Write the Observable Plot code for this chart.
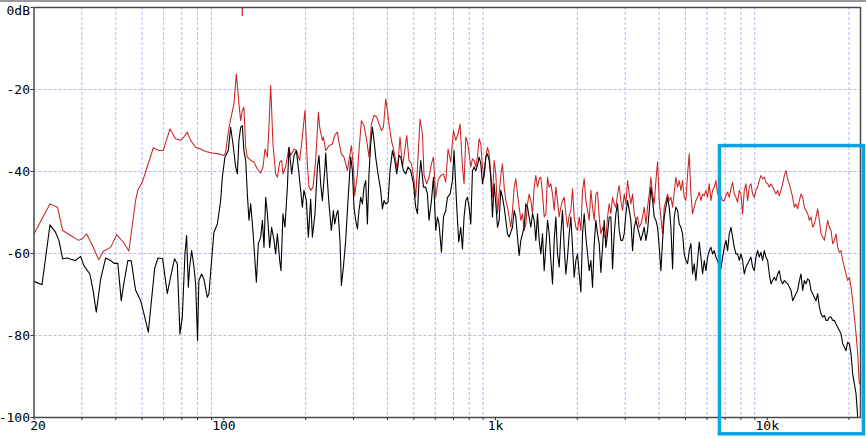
<!DOCTYPE html>
<html><head><meta charset="utf-8">
<script src="https://cdn.jsdelivr.net/npm/d3@7"></script>
<script src="https://cdn.jsdelivr.net/npm/@observablehq/plot@0.6"></script>
<style>
html,body{margin:0;padding:0;background:#fff;}
#wrap{position:relative;width:866px;height:439px;overflow:hidden;}
#topbar{position:absolute;left:0;top:0;width:866px;height:2px;background:#9a9a9a;}
</style></head><body><div id="wrap"><div id="topbar"></div></div>
<script>
// ---- axis / grid values ----
const gridFreqs = [30,40,50,60,70,80,90,200,300,400,500,600,700,800,900,2000,3000,4000,5000,6000,7000,8000,9000,20000];
const tickFreqs = [20,30,40,50,60,70,80,90,100,200,300,400,500,600,700,800,900,1000,2000,3000,4000,5000,6000,7000,8000,9000,10000,20000];
const xLabelFreqs = [20, 100, 1000, 10000];
const xLabelTexts = ["20", "100", "1k", "10k"];
const gridDb = [-20, -40, -60, -80];
const yTickDb = [0, -20, -40, -60, -80, -100];
const yLabelTexts = ["0dB", "-20", "-40", "-60", "-80", "-100"];

// ---- red series, low range [Hz, dB] ----
const redLow = [
[20,-55.2],[22.9,-47.9],[24.4,-48.7],[25.5,-54.4],[27.3,-55.6],[29.2,-56.8],[30.1,-56.4],[31.2,-55.2],[32.8,-58.0],[34.6,-61.5],
[36.1,-59.4],[38.3,-58.5],[40.3,-55.4],[42.6,-57.2],[44.7,-59.4],[47.3,-47.1],[48.2,-44.6],[50.1,-42.6],[52.2,-38.9],[55.0,-34.2],
[57.6,-34.9],[59.8,-34.9],[63.3,-29.6],
[66.4,-32.0],[69.3,-32.4],[71.2,-31.6],[73.3,-30.4],[75.4,-32.4],[78.7,-34.1],[82.1,-34.5],[85.7,-35.1],[90.7,-35.5],[95.9,-35.7],
[100.0,-36.1],[101.5,-35.3],[103.8,-30.4],[105.9,-27.2],[108.9,-23.5],[111.1,-16.2],[113.6,-23.5],[115.3,-27.6],[116.9,-25.1],[118.5,-24.3],
[120.3,-34.1],[122.0,-36.5],[125.5,-37.3],[129.0,-37.7],[132.8,-39.4],[136.6,-40.4],[139.3,-38.9],[141.7,-34.5],[144.6,-36.5],[146.5,-29.2],
[148.7,-19.0],[151.6,-33.3],[155.1,-40.6],[157.4,-41.4],[160.5,-37.7],[163.2,-37.3],[165.0,-40.6],[168.8,-38.9],[173.6,-34.1],[176.2,-36.1],
[181.2,-34.5],[184.9,-34.9],[190.1,-37.3],[194.5,-31.6],[198.8,-25.1],[202.9,-38.1],[205.7,-43.8],[208.7,-44.6],[212.8,-43.8],[217.7,-37.3],
[222.8,-25.5],[225.2,-29.2],[230.4,-32.4],
[232.4,-31.6],[237.0,-34.9],[243.7,-33.7],[250.8,-33.3],[255.8,-31.2],[261.7,-30.4],[265.3,-32.8],[270.7,-35.7],[276.8,-36.5],[284.9,-39.8],
[291.2,-35.7],[294.7,-33.7],[299.7,-38.9],[303.1,-45.9],[310.1,-40.6],[314.3,-34.9],[320.8,-27.6],[327.9,-28.8],[335.5,-32.4],[342.1,-36.5],
[349.2,-28.4],[357.0,-26.3],[365.2,-26.7],[372.4,-28.4],[380.1,-30.0],[386.6,-29.2],[394.2,-22.3],[399.9,-25.1],[405.4,-28.4],[413.7,-32.4],
[420.8,-34.5],[429.1,-37.3],[435.3,-39.8],[445.0,-31.6],[454.2,-38.9],[463.1,-34.9],[471.1,-31.2],[480.3,-37.3],[490.2,-38.1],[501.2,-42.2],
[508.4,-46.3],[518.5,-36.5],[527.3,-27.2],[538.2,-30.8],[545.5,-41.0],[558.1,-43.0],[569.1,-41.4],[580.8,-38.1],[590.8,-36.5],[602.4,-46.3],
[614.3,-42.2],[628.5,-41.0],[643.1,-40.6],[655.7,-42.6],[668.6,-34.5],[684.1,-37.7],[700.0,-30.0],[713.8,-32.4],[727.8,-30.8],[740.3,-28.4],
[755.5,-38.9],[765.8,-43.0]
];

// ---- black series, low range [Hz, dB] ----
const blackLow = [
[20,-66.8],[21.4,-67.6],[22.0,-61.7],[22.9,-53.0],[24.0,-54.8],[24.7,-56.8],[25.5,-61.3],[26.5,-61.1],[27.6,-61.5],[28.4,-61.7],
[29.7,-60.7],[30.5,-62.9],[32.1,-65.0],[33.0,-69.0],[33.9,-74.3],[35.2,-66.2],[36.7,-61.1],[38.3,-61.7],[39.4,-62.4],[40.7,-62.4],
[41.9,-71.5],[42.8,-67.4],[44.3,-61.7],[45.6,-61.8],[47.3,-68.9],[49.4,-71.5],[50.8,-74.7],[52.7,-79.2],[55.6,-63.7],[57.2,-61.1],
[59.5,-61.3],[61.9,-69.8],[63.6,-65.8],[65.8,-61.3],[67.4,-62.5],[68.9,-79.6],
[70.3,-75.5],[71.9,-60.1],[72.9,-55.6],[74.0,-68.2],[74.8,-63.3],[76.1,-59.3],[77.6,-63.3],[78.7,-67.4],[80.0,-81.2],[80.9,-66.6],
[82.8,-65.0],[84.4,-66.2],[86.9,-70.7],[88.1,-69.8],[90.1,-61.7],[91.9,-54.8],[94.6,-52.8],[97.3,-47.1],[98.7,-41.4],[100.9,-36.5],
[103.8,-34.9],[105.9,-29.2],[108.0,-33.3],[110.5,-38.9],[112.1,-40.6],[113.6,-32.4],[115.3,-29.2],[116.9,-28.8],[118.5,-34.9],[120.3,-37.3],
[122.0,-45.5],[123.7,-51.9],[125.5,-47.9],[127.9,-54.4],[130.1,-61.7],[131.7,-67.0],[133.9,-57.6],[136.6,-56.0],[138.6,-51.9],[140.5,-58.5],
[142.5,-46.3],[144.6,-50.3],[147.4,-58.5],[149.9,-53.6],[152.9,-56.8],[155.1,-60.1],[157.4,-55.2],[160.5,-61.7],[162.2,-64.2],[165.0,-50.3],
[167.8,-53.6],[171.3,-43.8],[173.6,-34.1],[177.7,-40.6],[181.2,-36.1],[184.9,-34.9],[189.0,-40.6],[194.5,-48.7],[197.1,-44.6],[201.2,-47.1],
[204.6,-56.0],[208.7,-46.7],[211.7,-56.0],[216.4,-50.3],[220.9,-38.9],[223.9,-36.1],[227.1,-43.0],[230.4,-47.1],[235.6,-38.9],
[237.0,-35.5],[240.4,-42.2],[243.7,-47.9],[248.7,-54.4],[253.0,-49.5],[255.8,-52.8],[260.1,-50.3],[263.0,-49.5],[267.5,-56.8],[270.7,-67.8],
[275.4,-63.3],[280.8,-56.8],[286.3,-47.1],[293.0,-36.5],[297.2,-39.8],[301.3,-48.7],[305.6,-51.9],[310.1,-54.0],[314.3,-49.5],[318.9,-46.3],
[323.5,-47.9],[327.9,-43.8],[332.7,-42.2],[337.5,-52.8],[342.1,-40.6],[347.1,-33.3],[352.1,-29.2],[357.0,-32.4],[362.1,-36.5],[369.3,-40.6],
[377.8,-44.6],[383.3,-49.1],[388.6,-47.1],[394.2,-47.9],[402.0,-47.5],[408.8,-39.8],[417.3,-34.9],[425.5,-37.3],[432.8,-40.6],[441.3,-36.1],
[447.7,-36.5],[458.0,-39.8],[467.1,-40.6],[476.3,-38.9],[487.3,-39.8],[498.6,-43.0],[508.4,-48.7],[515.8,-50.3],[522.9,-42.2],[530.5,-37.3],
[542.8,-43.8],[553.4,-43.8],[561.5,-45.5],[569.1,-51.9],[580.8,-47.1],[590.8,-41.4],[602.4,-54.4],[611.2,-51.1],[619.5,-52.8],[632.2,-59.7],
[643.1,-51.1],[655.7,-49.5],[665.2,-46.3],[680.1,-45.5],[694.1,-42.2],[703.5,-34.9],[719.8,-48.7],[732.1,-57.2],[744.7,-53.6],[755.5,-58.9],
[765.8,-51.1]
];

// ---- upper range: shared frequencies (Hz) ----
const highFreq = [
777.1,788.2,799.4,810.8,822.3,834.0,845.9,857.9,870.1,882.5,
895.1,907.8,920.7,933.8,947.1,960.6,974.3,988.2,1002.3,1016.6,
1031.0,1045.7,1060.6,1075.7,1091.0,1106.5,1122.3,1138.3,1154.5,1170.9,
1187.6,1204.5,1221.6,1239.0,1256.6,1274.5,1292.6,1311.0,1329.7,1348.6,
1367.8,1387.4,1407.1,1427.1,1447.4,1468.0,1488.9,1510.1,1531.6,1553.4,
1575.6,1598.0,1620.8,1643.8,1667.2,1691.0,1715.0,1739.4,1764.2,1789.3,
1814.8,1840.6,1866.8,1893.4,1920.3,1947.7,1975.4,2003.5,2032.0,2061.0,
2090.3,2120.0,2150.2,2180.8,2211.9,2243.3,2275.3,2307.7,2340.5,2373.8,
2407.6,2441.9,2476.6,2511.9,2547.6,2583.9,2620.7,2658.0,2695.8,2734.2,
2773.1,2812.6,2852.6,2893.2,2934.4,2976.2,3018.5,3061.5,3105.1,3149.3,
3194.1,3239.6,3285.7,3332.5,3379.9,3428.0,3476.8,3526.3,3576.5,3627.4,
3679.0,3731.4,3784.5,3838.4,3893.0,3948.4,4004.6,4061.6,4119.4,4178.1,
4237.5,4297.6,4358.8,4420.8,4483.7,4547.6,4612.3,4677.9,4744.5,4812.1,
4880,4950,5020,5092,5164,5238,5312,5388,5464,5542,
5622,5702,5783,5865,5949,6033,6119,6206,6295,6384,
6475,6567,6661,6756,6852,6949,7048,7148,7250,7353,
7458,7564,7672,7781,7892,8004,8118,8233,8351,8469,
8590,8712,8836,8962,9090,9219,9350,9483,9618,9755,
9894,10037,10180,10325,10472,10621,10772,10926,11081,11239,
11399,11561,11726,11893,12062,12234,12408,12585,12764,12946,
13130,13317,13506,13699,13894,14092,14292,14496,14702,14911,
15124,15339,15557,15779,16003,16231,16462,16697,16934,17175,
17420,17668,17919,18174,18433,18695,18962,19231,19505,19783,
20065,20350,20640,20934,21232,21534,21841
];

const redHigh = [
-31.6,-32.8,-35.7,-38.9,-36.9,-37.3,-38.9,-36.5,-32.0,-33.3,
-38.9,-41.4,-36.5,-34.1,-35.7,-40.6,-46.3,-37.3,-40.6,-50.3,
-45.5,-41.0,-38.1,-43.8,-47.1,-48.7,-51.1,-53.6,-49.5,-43.8,
-41.8,-45.5,-48.7,-51.9,-50.3,-54.4,-52.8,-47.9,-45.5,-47.1,
-50.3,-43.8,-41.0,-43.8,-41.8,-41.4,-45.5,-51.1,-50.3,-41.4,
-43.8,-43.0,-45.5,-49.5,-43.8,-47.1,-51.1,-48.7,-47.1,-46.3,
-50.3,-53.6,-50.7,-49.5,-44.2,-51.1,-53.6,-54.4,-51.1,-54.4,
-44.6,-41.8,-47.1,-49.5,-51.9,-44.6,-48.7,-51.9,-45.5,-45.0,
-51.1,-55.2,-53.6,-55.6,-56.4,-51.1,-47.9,-50.3,-46.3,-47.9,
-48.7,
-45.5,-43.4,-47.1,-49.5,-45.5,-47.9,-42.2,-45.5,-47.9,-45.5,
-50.3,-51.9,-51.1,-53.6,-52.8,-51.1,-48.7,-52.8,-48.7,-45.5,
-41.4,-45.5,-47.9,-42.2,-37.7,-47.1,-51.1,-55.2,-48.7,-47.1,
-45.5,-47.1,-46.3,-48.7,-45.0,-41.4,-43.8,-42.2,-44.6,-42.2,
-46.3,-47.1,-40.6,-35.7,-45.5,-50.3,-48.7,-47.1,-46.3,-45.0,
-47.1,-45.5,-45.9,-44.6,-46.3,-43.0,-47.1,-44.6,-43.8,-42.2,
-45.5,-44.6,-46.3,-47.1,-47.1,-45.9,-45.0,-46.3,-44.2,-42.6,
-45.5,-46.3,-47.5,-44.6,
-45.5,-50.3,-44.6,-43.0,-47.1,-43.8,-43.0,-45.5,-46.3,-44.6,
-43.8,-42.2,-41.0,-41.8,-41.4,-42.6,-43.0,-43.8,-43.0,-43.8,
-44.6,-45.5,-44.6,-45.9,-44.6,-43.0,-41.0,-39.8,-41.8,-43.0,
-44.6,-46.3,-48.7,-47.9,-49.1,-47.1,-45.5,-46.3,-48.7,-49.5,
-50.3,-51.9,-51.1,-53.6,-52.8,-51.1,-49.1,-51.9,-55.2,-56.0,
-56.8,-54.4,-51.9,-53.6,-54.4,-57.6,-56.8,-55.2,-58.5,-59.7,
-59.3,-61.7,-63.3,-65.0,-66.6,-65.8,-68.2,-71.5,-75.5,-79.6,
-84.5,-91.8
];

const blackHigh = [
-47.1,-46.3,-48.7,-52.8,-39.8,-38.9,-39.8,-38.5,-36.5,-38.1,
-43.0,-40.6,-36.5,-35.7,-37.3,-41.4,-51.1,-43.0,-47.9,-53.6,
-51.9,-44.6,-46.3,-48.7,-51.9,-55.2,-56.0,-54.8,-53.6,-49.5,
-51.1,-56.0,-60.5,-56.8,-55.2,-53.6,-47.9,-48.7,-51.1,-53.6,
-50.3,-51.9,-56.8,-50.3,-56.8,-60.1,-55.2,-64.2,-58.5,-51.9,
-55.2,-61.7,-67.4,-56.8,-51.1,-60.1,-63.3,-55.2,-49.5,-58.5,
-65.0,-60.9,-55.2,-51.1,-58.5,-65.8,-61.7,-60.1,-65.0,-69.4,
-55.2,-50.3,-56.0,-60.1,-64.2,-61.7,-68.2,-57.6,-51.9,-55.2,
-57.6,-64.6,-58.5,-51.9,-58.5,-55.2,-51.1,-51.1,-63.7,-55.2,
-50.3,
-47.9,-54.4,-56.8,-56.8,-55.2,-50.3,-47.1,-49.5,-51.9,-59.3,
-53.6,-51.9,-53.6,-55.2,-56.8,-55.2,-53.6,-56.8,-54.4,-49.5,
-43.8,-47.1,-51.1,-51.9,-53.6,-58.5,-64.2,-56.8,-51.1,-48.7,
-46.3,-48.7,-53.6,-63.7,-51.1,-48.7,-49.5,-52.8,-53.6,-55.2,
-60.1,-61.7,-62.5,-59.3,-57.6,-65.0,-62.5,-66.6,-61.7,-57.2,
-60.9,-65.0,-61.7,-64.2,-60.9,-59.3,-58.5,-60.1,-59.3,-60.9,
-61.7,-63.3,-63.7,-60.9,-58.5,-56.8,-59.3,-55.2,-53.6,-56.0,
-58.5,-60.1,-60.1,-61.7,
-60.1,-61.7,-65.0,-63.3,-62.5,-61.7,-60.9,-63.3,-64.2,-60.9,
-59.3,-60.9,-59.7,-61.7,-59.3,-60.9,-61.7,-65.0,-67.4,-66.6,
-65.8,-66.6,-65.0,-64.2,-66.6,-67.4,-66.6,-67.0,-67.4,-68.2,
-69.0,-71.5,-70.7,-69.8,-69.0,-66.6,-65.0,-69.0,-66.6,-67.4,
-66.2,-66.6,-69.0,-69.8,-70.7,-71.5,-69.8,-73.1,-74.7,-75.5,
-75.1,-76.3,-76.3,-75.5,-75.5,-76.3,-76.3,-77.2,-78.0,-78.8,
-79.6,-82.0,-82.8,-83.7,-81.6,-82.0,-84.5,-89.4,-91.8,-94.2,
-99.9
];

// small red marker at the top edge
const markerFreq = [116.9];
const markerDb = [-2.2];

// highlight box (frequency range, dB range)
const highlightFreq = [6700, 22700];
const highlightDb = [-104.1, -33.8];

// ---- build tables ----
const toRows = (pairs) => pairs.map(([f, db]) => ({f, db}));
const redData = toRows(redLow).concat(highFreq.slice(0, redHigh.length).map((f, i) => ({f, db: redHigh[i]})));
const blackData = toRows(blackLow).concat(highFreq.slice(0, blackHigh.length).map((f, i) => ({f, db: blackHigh[i]})));

const RED = "#cc2222";
const GRID = "#b4b4ff";
const FONT = "DejaVu Sans Mono";
const FS = 13;

const chart = Plot.plot({
  width: 866,
  height: 439,
  marginLeft: 33.5,
  marginRight: 6,
  marginTop: 7,
  marginBottom: 22,
  style: {fontFamily: FONT, fontSize: FS + "px", background: "transparent", color: "#000"},
  x: {type: "log", domain: [20, 22050], axis: null},
  y: {domain: [-100, 0], axis: null},
  marks: [
    Plot.gridX(gridFreqs, {stroke: GRID, strokeOpacity: 1, strokeWidth: 1, strokeDasharray: "3,2"}),
    Plot.gridY(gridDb, {stroke: GRID, strokeOpacity: 1, strokeWidth: 1, strokeDasharray: "3,2"}),
    Plot.ruleX(markerFreq, {x: d => d, y1: 0, y2: markerDb[0], stroke: RED, strokeWidth: 1.2}),
    Plot.line(redData, {x: "f", y: "db", stroke: RED, strokeWidth: 1.05}),
    Plot.line(blackData, {x: "f", y: "db", stroke: "#000", strokeWidth: 1.1}),
    Plot.frame({stroke: "#4a4a4a", strokeWidth: 1.5}),
    Plot.axisX(tickFreqs, {tickSize: 3, tickFormat: () => "", stroke: "#333", label: null}),
    Plot.axisY(yTickDb, {tickSize: 3, tickFormat: () => "", stroke: "#333", label: null}),
    Plot.text(xLabelFreqs.slice(0, 1), {x: d => d, text: () => xLabelTexts[0], frameAnchor: "bottom", dy: 12.5, dx: 4, fontSize: FS, fill: "#000"}),
    Plot.text(xLabelFreqs.slice(1), {x: d => d, text: (d, i) => xLabelTexts[i + 1], frameAnchor: "bottom", dy: 12.5, fontSize: FS, fill: "#000"}),
    Plot.text(yTickDb.slice(0, 1), {y: d => d, text: () => yLabelTexts[0], frameAnchor: "left", dx: -4, dy: 3, textAnchor: "end", fontSize: FS, fill: "#000"}),
    Plot.text(yTickDb.slice(1), {y: d => d, text: (d, i) => yLabelTexts[i + 1], frameAnchor: "left", dx: -4, textAnchor: "end", fontSize: FS, fill: "#000"}),
    Plot.rect([{x1: highlightFreq[0], x2: highlightFreq[1], y1: highlightDb[0], y2: highlightDb[1]}],
      {x1: "x1", x2: "x2", y1: "y1", y2: "y2", fill: "none", stroke: "#0aa3e6", strokeWidth: 3.5})
  ]
});
chart.style.position = "absolute";
chart.style.left = "0";
chart.style.top = "0";
document.getElementById("wrap").prepend(chart);
</script>
</body></html>
